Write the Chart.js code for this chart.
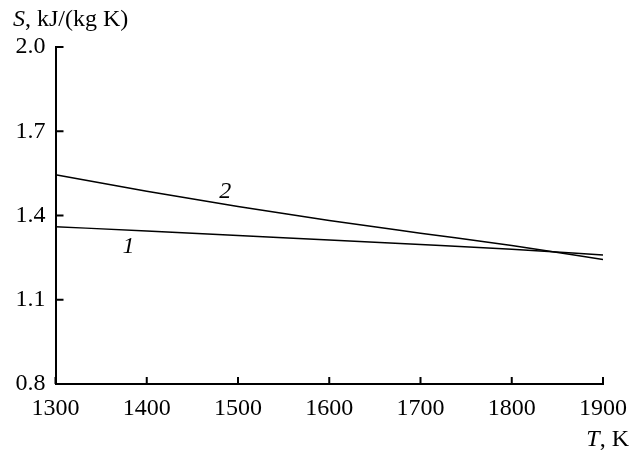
<!DOCTYPE html>
<html><head><meta charset="utf-8">
<script src="https://cdn.jsdelivr.net/npm/chart.js@4.4.0/dist/chart.umd.min.js"></script>
<style>html,body{margin:0;padding:0;background:#fff}#wrap{width:643px;height:453px}</style>
</head><body><div id="wrap"><canvas id="c" width="643" height="453"></canvas></div>
<script>
const temperatures = [1300, 1400, 1500, 1600, 1700, 1800, 1900];
const series1 = [1.360, 1.345, 1.329, 1.313, 1.297, 1.280, 1.259];
const series2 = [1.545, 1.486, 1.432, 1.382, 1.337, 1.293, 1.243];
const xTicks = [1300, 1400, 1500, 1600, 1700, 1800, 1900];
const yTicks = [0.8, 1.1, 1.4, 1.7, 2.0];
const curveLabels = [{text: '1', t: 1380, s: 1.288}, {text: '2', t: 1486, s: 1.484}];

const FONT = '"Liberation Serif", "Times New Roman", serif';
const FS = 24;

const decor = {
  id: 'decor',
  afterDraw(chart) {
    const {ctx, scales: {x, y}} = chart;
    ctx.save();
    ctx.strokeStyle = '#000';
    ctx.lineWidth = 2;
    ctx.beginPath();
    xTicks.forEach(v => { const px = x.getPixelForValue(v); ctx.moveTo(px, y.bottom); ctx.lineTo(px, y.bottom - 7); });
    yTicks.forEach(v => { const py = y.getPixelForValue(v); ctx.moveTo(x.left, py); ctx.lineTo(x.left + 8, py); });
    ctx.stroke();
    ctx.fillStyle = '#000';
    ctx.textBaseline = 'middle';
    ctx.font = 'italic ' + FS + 'px ' + FONT;
    curveLabels.forEach(l => {
      ctx.textAlign = 'center';
      ctx.fillText(l.text, x.getPixelForValue(l.t), y.getPixelForValue(l.s));
    });
    // y title
    ctx.textAlign = 'left';
    ctx.font = 'italic ' + FS + 'px ' + FONT;
    let sx = 13;
    ctx.fillText('S', sx, 20);
    sx += ctx.measureText('S').width;
    ctx.font = FS + 'px ' + FONT;
    ctx.fillText(', kJ/(kg K)', sx, 20);
    // x title
    ctx.font = FS + 'px ' + FONT;
    const rest = ', K';
    const wRest = ctx.measureText(rest).width;
    ctx.font = 'italic ' + FS + 'px ' + FONT;
    const wT = ctx.measureText('T').width;
    const endX = 629;
    ctx.fillText('T', endX - wRest - wT, 440);
    ctx.font = FS + 'px ' + FONT;
    ctx.fillText(rest, endX - wRest, 440);
    ctx.restore();
  }
};

new Chart(document.getElementById('c'), {
  type: 'line',
  data: {
    datasets: [
      {label: '1', data: temperatures.map((t, i) => ({x: t, y: series1[i]})), borderColor: '#000', borderWidth: 1.5, pointRadius: 0, cubicInterpolationMode: 'monotone', fill: false},
      {label: '2', data: temperatures.map((t, i) => ({x: t, y: series2[i]})), borderColor: '#000', borderWidth: 1.5, pointRadius: 0, cubicInterpolationMode: 'monotone', fill: false}
    ]
  },
  options: {
    responsive: false,
    animation: false,
    devicePixelRatio: 1,
    layout: {padding: {top: 47, right: 40, left: 0, bottom: 0}},
    plugins: {legend: {display: false}, tooltip: {enabled: false}},
    scales: {
      x: {
        type: 'linear', min: 1300, max: 1900,
        afterBuildTicks: s => { s.ticks = xTicks.map(v => ({value: v})); },
        afterFit: s => { s.height = 69; },
        grid: {display: false, drawTicks: false},
        border: {display: true, color: '#000', width: 2},
        ticks: {color: '#000', font: {family: FONT, size: FS}, padding: 10, maxRotation: 0, autoSkip: false, callback: v => String(v)}
      },
      y: {
        type: 'linear', min: 0.8, max: 2.0,
        afterBuildTicks: s => { s.ticks = yTicks.map(v => ({value: v})); },
        afterFit: s => { s.width = 55.5; },
        grid: {display: false, drawTicks: false},
        border: {display: true, color: '#000', width: 2},
        ticks: {color: '#000', font: {family: FONT, size: FS}, padding: 10, callback: v => v.toFixed(1)}
      }
    }
  },
  plugins: [decor]
});
</script></body></html>
